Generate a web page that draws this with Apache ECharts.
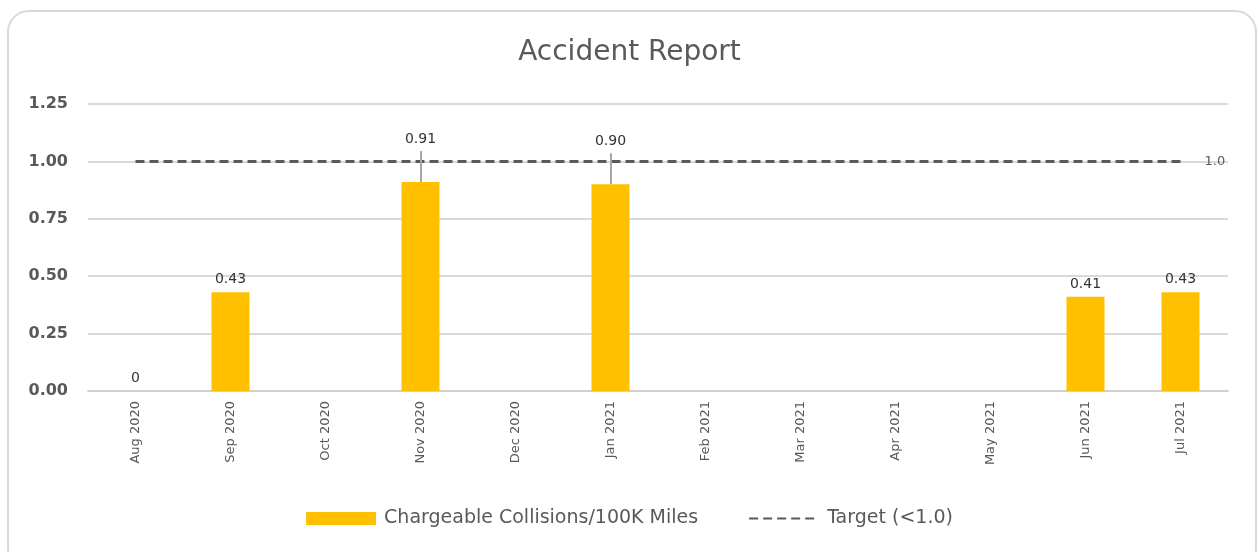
<!DOCTYPE html>
<html><head><meta charset="utf-8">
<script src="https://cdn.jsdelivr.net/npm/echarts@6/dist/echarts.min.js"></script>
<style>
html,body{margin:0;padding:0;background:#fff;}
#frame{position:absolute;left:7px;top:10px;width:1250px;height:560px;border:2px solid #d9d9d9;border-radius:22px;box-sizing:border-box;}
#c{position:absolute;left:0;top:0;width:1259px;height:552px;}
</style></head>
<body>
<div id="frame"></div>
<div id="c"></div>
<script>
const categories = ['Aug 2020','Sep 2020','Oct 2020','Nov 2020','Dec 2020','Jan 2021','Feb 2021','Mar 2021','Apr 2021','May 2021','Jun 2021','Jul 2021'];
const collisions = [0, 0.43, null, 0.91, null, 0.90, null, null, null, null, 0.41, 0.43];
const target = [1.0, 1.0, 1.0, 1.0, 1.0, 1.0, 1.0, 1.0, 1.0, 1.0, 1.0, 1.0];
const yTicks = [0, 0.25, 0.5, 0.75, 1.0, 1.25];
const liftedLabels = ['Nov 2020', 'Jan 2021'];

const FONT = '"DejaVu Sans", "Noto Sans", sans-serif';
const GREY = '#595959';
const chart = echarts.init(document.getElementById('c'));

const barData = collisions.map((v, i) => {
  const lifted = liftedLabels.includes(categories[i]);
  return {
    value: v,
    label: lifted ? { distance: 36 } : {}
  };
});

const leaderData = categories
  .map((c, i) => liftedLabels.includes(c) ? [
    { coord: [c, collisions[i]] },
    { coord: [c, collisions[i] + 0.135] }
  ] : null)
  .filter(Boolean);

chart.setOption({
  animation: false,
  title: {
    text: 'Accident Report',
    left: 'center', top: 34,
    textStyle: { fontFamily: FONT, fontSize: 28, fontWeight: 'normal', color: GREY }
  },
  grid: { left: 88, right: 31, top: 104, bottom: 161 },
  legend: {
    bottom: 19, left: 'center', itemGap: 50,
    itemWidth: 70, itemHeight: 13,
    textStyle: { fontFamily: FONT, fontSize: 19, color: GREY, padding: [0, 0, 0, 3] },
    data: [
      { name: 'Chargeable Collisions/100K Miles', icon: 'rect' },
      { name: 'Target (<1.0)', itemStyle: { opacity: 0 } }
    ]
  },
  xAxis: {
    type: 'category', data: categories,
    axisLine: { lineStyle: { color: '#d0d0d0', width: 2 } },
    axisTick: { show: false },
    axisLabel: { rotate: 90, fontFamily: FONT, fontSize: 13, color: GREY, margin: 10 }
  },
  yAxis: {
    type: 'value', min: yTicks[0], max: yTicks[yTicks.length - 1], interval: 0.25,
    axisLine: { show: false }, axisTick: { show: false },
    axisLabel: {
      fontFamily: FONT, fontSize: 16, fontWeight: 'bold', color: GREY, margin: 20,
      formatter: v => v.toFixed(2)
    },
    splitLine: { lineStyle: { color: '#d9d9d9', width: 2 } }
  },
  series: [
    {
      name: 'Chargeable Collisions/100K Miles',
      type: 'bar', data: barData, barWidth: 38,
      itemStyle: { color: '#FFC000' },
      label: {
        show: true, position: 'top', distance: 6,
        fontFamily: FONT, fontSize: 14, color: '#333',
        formatter: p => p.value === 0 ? '0' : p.value.toFixed(2)
      },
      markLine: {
        silent: true, symbol: 'none', label: { show: false },
        lineStyle: { color: '#a6a6a6', width: 2, type: 'solid' },
        data: leaderData
      },
      z: 2
    },
    {
      name: 'Target (<1.0)',
      type: 'line', data: target, symbol: 'none',
      lineStyle: { color: GREY, width: 3, type: [9, 5] },
      itemStyle: { color: GREY },
      endLabel: {
        show: true, distance: 24,
        fontFamily: FONT, fontSize: 13, color: GREY,
        formatter: p => p.value.toFixed(1)
      },
      z: 3
    }
  ]
});
</script>
</body></html>
